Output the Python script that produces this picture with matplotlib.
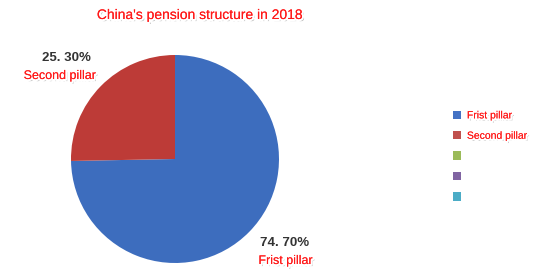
import matplotlib
matplotlib.use("Agg")
import matplotlib.pyplot as plt
import matplotlib.patheffects as pe
from matplotlib.patches import Patch

plt.rcParams['font.family'] = ['Liberation Sans', 'DejaVu Sans']

title = "China's pension structure in 2018"
categories = ["Frist pillar", "Second pillar"]
values = [74.7, 25.3]
legend_labels = ["Frist pillar", "Second pillar", "", "", ""]
slice_colors = ["#3D6DBE", "#BD3B37"]
legend_colors = ["#4472C4", "#C0504D", "#9BBB59", "#8064A2", "#4BACC6"]

W, H = 534, 270
fig = plt.figure(figsize=(W / 100, H / 100), dpi=100)
fig.patch.set_facecolor("white")

halo = [pe.withSimplePatchShadow(offset=(1.5, -1.5), shadow_rgbFace="#777777", alpha=0.5),
        pe.withStroke(linewidth=3, foreground="white"),
        pe.Normal()]

cx, cy, r = 175, 159, 104
ax = fig.add_axes([(cx - r) / W, (H - cy - r) / H, 2 * r / W, 2 * r / H])
wedges, _ = ax.pie(values, colors=slice_colors, startangle=90, counterclock=False,
                   radius=1.0, wedgeprops=dict(linewidth=0))
ax.set_xlim(-1, 1)
ax.set_ylim(-1, 1)
ax.set_aspect("equal")
ax.axis("off")

fig.text(200 / W, 1 - 15 / H, title, color="#FF1A1A", fontsize=10,
         ha="center", va="center", path_effects=halo)

def pct(v):
    return f"{v:.2f}".replace(".", ". ") + "%"

# label positions (pixel coords)
label_pos = {0: (285, 243, 286, 261), 1: (66, 58, 60, 76)}
for i, (cat, v) in enumerate(zip(categories, values)):
    px, py, lx, ly = label_pos[i]
    fig.text(px / W, 1 - py / H, pct(v), color="#333333", fontsize=9.5,
             fontweight="bold", ha="center", va="center")
    fig.text(lx / W, 1 - ly / H, cat, color="#FF1A1A", fontsize=9,
             ha="center", va="center", path_effects=halo)

handles = [Patch(facecolor=c, edgecolor="none") for c in legend_colors]
leg = fig.legend(handles, legend_labels, loc="upper left",
                 bbox_to_anchor=(444 / W, 1 - 101 / H), frameon=False,
                 fontsize=7.5, handlelength=0.7, handleheight=0.85,
                 handletextpad=0.6, labelspacing=1.0)
for t in leg.get_texts():
    t.set_color("#FF1A1A")
    t.set_path_effects(halo)

fig.savefig("out.png", dpi=100, facecolor="white")
